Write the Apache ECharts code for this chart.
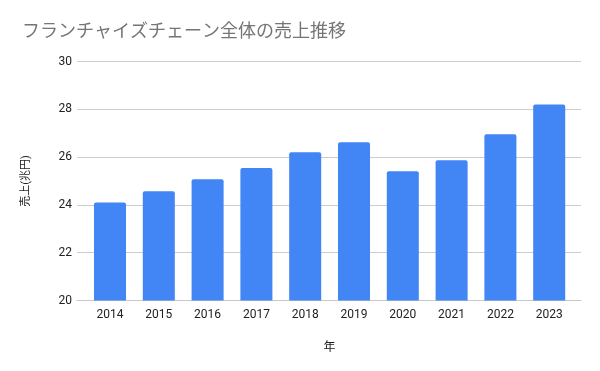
<!DOCTYPE html>
<html><head><meta charset="utf-8">
<script src="https://cdn.jsdelivr.net/npm/echarts@6/dist/echarts.min.js"></script>
<style>html,body{margin:0;padding:0;background:#fff}#c{width:600px;height:371px}</style>
</head><body><div id="c"></div>
<script>
var years = ['2014','2015','2016','2017','2018','2019','2020','2021','2022','2023'];
var sales = [24.1, 24.57, 25.07, 25.54, 26.2, 26.62, 25.41, 25.87, 26.96, 28.2];
var yTicks = {min: 20, max: 30, interval: 2};
var titleText = 'フランチャイズチェーン全体の売上推移';
var yName = '売上(兆円)';
var xName = '年';

(function () {
var chart = echarts.init(document.getElementById('c'), null, {renderer: 'canvas'});
var font = 'Roboto, "Noto Sans CJK JP", sans-serif';
var gTop = 61.5, gBottom = 70.5;
chart.setOption({
  animation: false,
  title: {text: titleText, left: 17, top: 19, textStyle: {fontFamily: font, fontSize: 18, fontWeight: 'normal', color: '#757575'}},
  grid: [
    {left: 77, right: 19, top: gTop, bottom: gBottom},
    {left: 85.6, right: 26.4, top: gTop, bottom: gBottom}
  ],
  xAxis: [{
    type: 'category', gridIndex: 0, data: years,
    axisLine: {show: true, lineStyle: {color: '#c8c8c8'}},
    axisTick: {show: false}, axisLabel: {show: false}, splitLine: {show: false}
  }, {
    type: 'category', gridIndex: 1, data: years,
    name: xName, nameLocation: 'middle', nameGap: 41,
    nameTextStyle: {fontFamily: font, fontSize: 12, color: '#222'},
    axisLine: {show: false},
    axisTick: {show: false},
    axisLabel: {fontFamily: font, fontSize: 12, color: '#222', margin: 8}
  }],
  yAxis: [{
    type: 'value', gridIndex: 0, min: yTicks.min, max: yTicks.max, interval: yTicks.interval,
    name: yName, nameLocation: 'middle', nameGap: 45, nameRotate: 90,
    nameTextStyle: {fontFamily: font, fontSize: 11, color: '#222'},
    axisLine: {show: false}, axisTick: {show: false},
    axisLabel: {fontFamily: font, fontSize: 12, color: '#222', margin: 5},
    splitLine: {lineStyle: {color: '#cccccc'}}
  }, {
    type: 'value', gridIndex: 1, min: yTicks.min, max: yTicks.max, interval: yTicks.interval,
    axisLine: {show: false}, axisTick: {show: false}, axisLabel: {show: false}, splitLine: {show: false}
  }],
  series: [{
    type: 'bar', xAxisIndex: 1, yAxisIndex: 1, data: sales, barWidth: '65.6%',
    itemStyle: {color: '#4285F4', borderRadius: [2, 2, 0, 0]}
  }]
});
})();
</script></body></html>
